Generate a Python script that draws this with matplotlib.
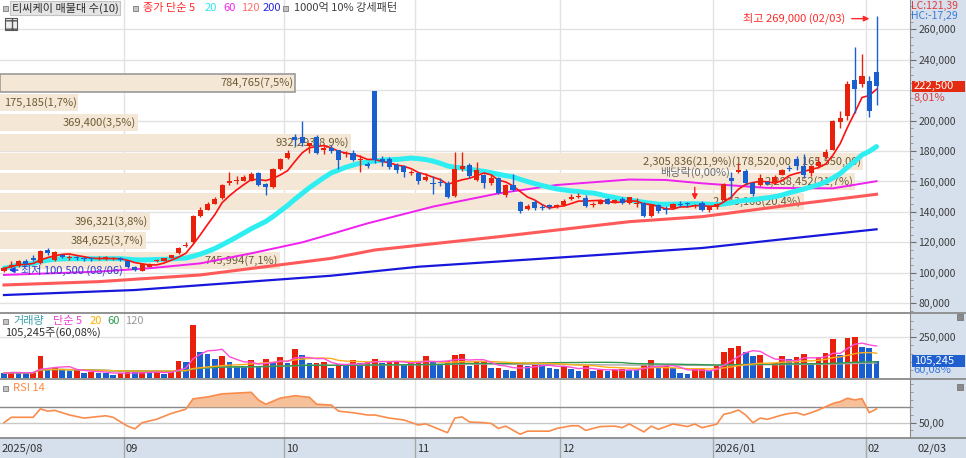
import matplotlib
matplotlib.use("Agg")
import matplotlib.pyplot as plt
import matplotlib.transforms as mtransforms
from matplotlib.patches import Rectangle
from matplotlib.ticker import FuncFormatter, MultipleLocator
import numpy as np
import pandas as pd

plt.rcParams['font.family'] = ['Noto Sans CJK KR', 'DejaVu Sans']

W, H = 966, 458

# daily candles in thousand won, 2025/08/06 .. 2026/02/03
open_k = [101.5, 103.5, 104.5, 108.0, 110.0, 106.5, 115.0, 108.5, 111.5, 109.5,
          110.0, 109.5, 109.5, 109.0, 109.5, 109.0, 109.5, 107.5, 104.0, 101.0,
          104.0, 107.5, 108.0, 110.0, 113.0, 117.5, 120.0, 137.5, 141.5, 145.5,
          149.0, 159.0, 160.0, 160.5, 160.5, 165.5, 158.5, 156.5, 168.5, 175.5,
          189.5, 189.5, 183.0, 189.5, 181.0, 182.0, 180.5, 178.0, 179.0, 174.0,
          171.5, 219.5, 175.0, 175.0, 171.0, 170.0, 165.5, 165.5, 161.0, 159.0,
          159.5, 159.0, 150.5, 168.5, 171.0, 161.0, 164.5, 159.0, 162.0, 151.0,
          157.5, 146.5, 142.0, 146.5, 143.5, 144.5, 143.5, 144.5, 148.5, 150.0,
          149.0, 144.5, 145.5, 148.5, 146.5, 148.5, 146.0, 145.5, 146.0, 137.5,
          144.5, 142.0, 142.5, 145.5, 145.5, 144.0, 146.0, 141.5, 143.0, 148.0,
          162.0, 166.5, 167.0, 159.0, 157.5, 159.5, 159.5, 164.5, 169.0, 175.0,
          170.5, 165.5, 170.0, 176.0, 181.0, 199.0, 203.0, 227.0, 224.0, 226.0,
          232.0]
high_k = [103.5, 107.5, 108.5, 109.0, 111.5, 115.0, 116.5, 114.5, 112.5, 111.5,
          111.0, 110.5, 110.5, 111.0, 111.0, 110.5, 110.5, 108.0, 104.5, 106.5,
          106.5, 109.0, 110.0, 112.0, 117.0, 120.0, 138.0, 143.0, 146.5, 150.0,
          158.5, 166.0, 163.5, 164.0, 166.5, 166.0, 159.0, 169.0, 175.5, 181.0,
          191.0, 199.5, 185.5, 190.5, 183.0, 184.0, 181.0, 180.0, 180.5, 177.5,
          172.5, 219.5, 177.0, 176.0, 172.0, 171.0, 167.5, 166.0, 165.5, 163.5,
          162.0, 160.0, 179.5, 179.5, 172.0, 172.5, 165.0, 164.0, 163.0, 158.5,
          165.0, 147.5, 145.0, 148.0, 145.0, 145.0, 145.5, 148.5, 152.0, 152.5,
          151.0, 146.5, 148.5, 149.0, 148.5, 149.5, 150.0, 149.0, 146.5, 145.5,
          145.0, 144.0, 146.0, 147.0, 146.5, 145.5, 147.0, 144.0, 146.0, 159.0,
          166.0, 172.0, 168.0, 159.5, 165.0, 160.5, 164.0, 168.5, 171.0, 176.5,
          178.0, 171.0, 176.0, 181.5, 200.5, 206.0, 226.0, 248.5, 244.0, 229.0,
          269.0]
low_k = [100.5, 103.0, 104.0, 105.0, 107.5, 106.0, 112.0, 108.0, 109.5, 108.5,
         108.5, 108.0, 108.0, 108.5, 108.5, 108.5, 108.0, 103.0, 101.5, 101.0,
         103.5, 107.0, 107.5, 109.5, 112.5, 117.0, 119.5, 136.5, 141.0, 145.0,
         148.5, 158.0, 158.5, 160.0, 160.0, 157.0, 151.0, 155.5, 167.5, 175.0,
         183.5, 183.0, 178.5, 178.0, 178.0, 178.5, 168.5, 176.0, 173.5, 166.5,
         169.0, 172.0, 170.0, 168.0, 165.5, 163.0, 164.0, 158.5, 160.0, 152.0,
         157.0, 149.0, 150.0, 167.0, 162.5, 160.5, 156.0, 157.5, 151.5, 150.0,
         153.5, 139.5, 141.0, 141.5, 141.5, 142.0, 142.5, 144.0, 148.0, 149.0,
         143.5, 143.5, 145.0, 145.0, 146.0, 145.5, 145.5, 143.0, 137.0, 137.0,
         139.5, 138.5, 142.0, 143.0, 143.5, 142.5, 140.5, 140.0, 142.0, 147.5,
         150.0, 165.5, 158.0, 150.5, 157.0, 157.5, 158.5, 164.0, 167.0, 167.5,
         162.5, 163.5, 169.0, 175.0, 180.5, 195.0, 200.5, 205.0, 222.0, 202.5,
         210.0]
close_k = [103.0, 105.0, 108.0, 106.0, 108.5, 114.5, 113.0, 114.0, 110.5, 110.0,
           109.5, 109.0, 109.0, 109.5, 110.0, 109.5, 108.5, 103.5, 102.0, 106.0,
           106.0, 108.5, 109.5, 111.5, 116.0, 118.5, 137.5, 141.5, 145.5, 148.5,
           157.5, 160.0, 161.0, 163.0, 165.0, 157.5, 156.5, 168.0, 174.5, 179.0,
           187.5, 185.0, 185.0, 178.5, 182.0, 180.0, 174.0, 179.0, 174.0, 175.0,
           170.5, 174.0, 172.5, 169.5, 167.5, 166.5, 166.0, 160.0, 163.0, 158.5,
           159.0, 150.0, 168.0, 170.0, 163.5, 167.5, 159.0, 162.0, 152.5, 157.5,
           154.5, 140.5, 144.0, 142.5, 142.5, 143.5, 144.5, 147.0, 150.0, 150.5,
           144.0, 145.5, 148.0, 145.5, 148.0, 146.0, 149.5, 146.0, 137.5, 145.0,
           140.5, 141.0, 145.5, 144.5, 145.0, 144.5, 141.5, 143.0, 145.5, 158.5,
           160.0, 167.5, 159.0, 151.5, 162.5, 158.5, 163.0, 167.5, 168.0, 170.0,
           164.0, 170.5, 173.0, 179.5, 199.5, 202.0, 224.0, 221.0, 229.5, 206.0,
           222.5]
# volume in thousand shares
volume_k = [29, 37, 33, 30, 35, 135, 60, 62, 47, 45,
            50, 30, 38, 33, 32, 20, 29, 38, 35, 38,
            32, 38, 25, 38, 104, 100, 323, 162, 146, 117,
            135, 96, 75, 74, 110, 70, 117, 100, 127, 94,
            176, 141, 90, 92, 100, 59, 84, 80, 110, 90,
            100, 117, 90, 100, 104, 80, 90, 104, 135, 96,
            84, 104, 141, 147, 76, 96, 100, 60, 62, 51,
            45, 88, 72, 88, 84, 60, 57, 72, 55, 45,
            76, 41, 47, 41, 51, 55, 51, 50, 82, 108,
            60, 72, 60, 31, 27, 60, 61, 41, 72, 162,
            186, 198, 158, 135, 141, 60, 90, 135, 117, 129,
            147, 94, 127, 155, 237, 141, 248, 254, 192, 182,
            105.245]

krx_holidays = ['2025-08-15', '2025-10-03', '2025-10-06', '2025-10-07', '2025-10-08',
                '2025-10-09', '2025-12-25', '2025-12-31', '2026-01-01']

# longer moving averages (day index, thousand won)
ma60_idx = [0, 13, 20, 27, 34, 41, 45, 50, 59, 68, 76, 86, 91, 96, 105, 114, 120]
ma60_val = [98.6, 100.8, 103.0, 106.2, 112.8, 120.0, 125.5, 132.5, 143.5, 152.2,
            157.7, 161.3, 161.0, 158.8, 155.8, 155.5, 160.2]
ma120_idx = [0, 13, 27, 45, 51, 68, 86, 96, 110, 120]
ma120_val = [92.0, 94.2, 98.6, 109.5, 115.0, 123.7, 133.6, 136.9, 145.7, 151.6]
ma200_idx = [0, 18, 45, 57, 82, 96, 107, 120]
ma200_val = [85.4, 88.7, 98.1, 104.0, 111.8, 116.3, 122.0, 128.6]

# RSI 14
rsi_idx = [0, 1, 4, 5, 6, 7, 9, 11, 14, 15, 17, 18, 19, 21, 23, 25, 26, 28, 30, 31,
           34, 35, 36, 38, 40, 42, 43, 45, 46, 48, 50, 51, 53, 55, 57, 58, 61, 62, 63, 64,
           66, 67, 68, 69, 71, 72, 75, 76, 78, 79, 80, 82, 84, 85, 86, 88, 89, 90, 92, 94,
           95, 96, 98, 99, 100, 101, 102, 103, 104, 105, 107, 108, 109, 110, 111, 112, 114, 115, 116, 117,
           118, 119, 120]
rsi_val = [50, 57, 57, 68, 65, 66, 60, 56, 59, 57, 45.5, 42, 50, 54.5, 62, 67.5, 81, 83.5, 87.5, 88,
           89.5, 79.5, 74, 82, 85, 83, 74, 73, 65, 63, 60, 60, 56, 53.5, 47, 48.5, 37, 56, 57.5, 51,
           50, 49, 42.5, 45.5, 35, 39, 39, 42.5, 46, 46, 40, 45, 45.5, 43.5, 48.3, 38, 45.5, 41.4, 48.3, 45,
           48.3, 43.5, 48, 61, 63, 66.5, 60, 50, 56, 54.4, 60, 62, 63, 60, 63, 66.5, 75, 77.4, 81.8, 79.6,
           81.3, 63, 68]

# volume profile (매물대): 10 bands
profile_low = 100700
profile_step = 12970
profile_vol = [745994, 384625, 396321, 2043108, 2288452, 2305836, 932293, 369400, 175185, 784765]
profile_pct = [7.1, 3.7, 3.8, 20.4, 21.7, 21.9, 8.9, 3.5, 1.7, 7.5]

o = np.array(open_k) * 1000
h = np.array(high_k) * 1000
l = np.array(low_k) * 1000
c = np.array(close_k) * 1000
vol = np.array(volume_k) * 1000
n = len(c)
x = np.arange(n)
dates = pd.bdate_range('2025-08-06', '2026-02-03', freq='C', holidays=krx_holidays)[:n]

RED, BLUE = '#e8200c', '#1a5fd0'
GRID = '#e2e2e2'
STRIP = '#d6e0ec'
SEP = '#8a8a8a'

fig = plt.figure(figsize=(W / 100, H / 100), dpi=100)


def axes_px(x0, y0, x1, y1):
    return fig.add_axes([x0 / W, 1 - y1 / H, (x1 - x0) / W, (y1 - y0) / H])


def ftext(px, py, s, **kw):
    kw.setdefault('fontsize', 8)
    kw.setdefault('va', 'center')
    return fig.text(px / W, 1 - py / H, s, **kw)


def fsquare(px, py, size=5):
    fig.patches.append(Rectangle((px / W, 1 - (py + size / 2) / H), size / W, size / H,
                                 transform=fig.transFigure, facecolor='#c4c4c4',
                                 edgecolor='#7c7c7c', lw=0.6, zorder=5))


# backgrounds: right value strip and bottom date strip
fig.patches.append(Rectangle((910 / W, 0), (W - 910) / W, 1, transform=fig.transFigure,
                             facecolor=STRIP, edgecolor='none', zorder=-2))
fig.patches.append(Rectangle((0, 0), 1, (H - 438) / H, transform=fig.transFigure,
                             facecolor=STRIP, edgecolor='none', zorder=-2))

ax = axes_px(0, 0, 910, 313)
axv = axes_px(0, 313, 910, 379)
axr = axes_px(0, 379, 910, 438)

xlim = (-0.55, 124.6)
month_start = [i for i in range(1, n) if dates[i].month != dates[i - 1].month]
month_lines = [i - 0.5 for i in month_start]

for a in (ax, axv, axr):
    a.set_xlim(*xlim)
    a.set_xticks([])
    a.set_facecolor('white')
    for side in ('top', 'left', 'bottom'):
        a.spines[side].set_visible(False)
    a.spines['right'].set_color(SEP)
    a.yaxis.tick_right()
    a.tick_params(axis='y', which='major', direction='out', length=4, width=0.8,
                  color='#6c6c6c', labelsize=7.5, labelcolor='#3c3c3c', pad=2)
    a.tick_params(axis='y', which='minor', direction='out', length=2, width=0.6, color='#8c8c8c')
    for m in month_lines:
        a.axvline(m, color=GRID, lw=1, zorder=0.5)

# ---------------- price panel ----------------
ax.set_ylim(73600, 279250)
ax.set_yticks(np.arange(80000, 260001, 20000))
ax.yaxis.set_minor_locator(MultipleLocator(5000))
# the tick label under the current-price box is hidden, as on the chart
ax.yaxis.set_major_formatter(FuncFormatter(
    lambda v, p: '' if abs(v - c[-1]) < 9000 else f'{v:,.0f}'))
for yv in np.arange(80000, 260001, 20000):
    ax.axhline(yv, color=GRID, lw=1, zorder=0.5)

blend = mtransforms.blended_transform_factory(ax.transAxes, ax.transData)
pct_max = max(profile_pct)
gap = 1700
fig.canvas.draw()
renderer = fig.canvas.get_renderer()
ax_w = ax.get_window_extent().width
for k, (pv, pp) in enumerate(zip(profile_vol, profile_pct)):
    lo = profile_low + k * profile_step
    hi = lo + profile_step
    frac = pp / pct_max * 0.948
    holds_last = lo <= c[-1] < hi
    label = f"{pv:,}({pp:.1f}%)".replace('.', ',')
    if pp == pct_max:
        label += f"({hi:,.0f},00 ~ {lo:,.0f},00)"
    t = ax.text(frac - 0.002, lo + gap + (profile_step - gap) / 2, label, transform=blend,
                ha='right', va='center', fontsize=8, color='#6d5a32', zorder=2)
    tw = t.get_window_extent(renderer).width / ax_w
    if tw + 0.006 > frac:
        frac = tw + 0.006
        t.set_x(frac - 0.002)
    ax.add_patch(Rectangle((0, lo + gap), frac, profile_step - gap, transform=blend,
                           facecolor='#f4e7d6', edgecolor='#9a9a9a' if holds_last else 'none',
                           lw=1.2, zorder=1))

ma5 = pd.Series(c).rolling(5, min_periods=1).mean()
ma20 = pd.Series(c).rolling(20, min_periods=1).mean()
ax.plot(ma200_idx, np.array(ma200_val) * 1000, color='#1818dc', lw=1.6, zorder=3)
ax.plot(ma120_idx, np.array(ma120_val) * 1000, color='#ff5a5a', lw=2.2, zorder=3)
ax.plot(ma60_idx, np.array(ma60_val) * 1000, color='#f020f0', lw=1.4, zorder=3)
ax.plot(x, ma20, color='#2eeef2', lw=3.6, zorder=3, solid_capstyle='round')
ax.plot(x, ma5, color='#ff1010', lw=1.2, zorder=3.5)

up = c >= o
ccol = np.where(up, RED, BLUE)
ax.vlines(x, l, h, colors=ccol, lw=1, zorder=4)
ax.bar(x, np.maximum(np.abs(c - o), 700), bottom=np.minimum(o, c), width=0.7,
       color=ccol, linewidth=0, zorder=4)

# high / low / ex-dividend marks
i_hi = int(np.argmax(h))
i_lo = int(np.argmin(l))
ax.annotate('', xy=(i_hi - 0.6, 267000), xytext=(i_hi - 3.8, 267000),
            arrowprops=dict(arrowstyle='-|>', color='#ff2a2a', lw=1, mutation_scale=8), zorder=6)
ax.text(i_hi - 4.3, 267000, f'최고 {h[i_hi]:,.0f} ({dates[i_hi]:%m/%d})', ha='right', va='center',
        fontsize=8, color='#ff2a2a', zorder=6)
ax.annotate('', xy=(i_lo + 0.3, 101800), xytext=(i_lo + 2.3, 101800),
            arrowprops=dict(arrowstyle='-|>', color='#1e3ce0', lw=1, mutation_scale=8), zorder=6)
ax.text(i_lo + 2.4, 101800, f'최저 {l[i_lo]:,.0f} ({dates[i_lo]:%m/%d})', ha='left', va='center',
        fontsize=8, color='#2a3cd0', zorder=6)
i_div = int(np.where(dates == pd.Timestamp('2025-12-26'))[0][0])
ax.annotate('', xy=(i_div, h[i_div] + 600), xytext=(i_div, 158000),
            arrowprops=dict(arrowstyle='-|>', color='#ff2020', lw=1, mutation_scale=8), zorder=6)
ax.text(i_div, 166000, '배당락(0,00%)', ha='center', va='center', fontsize=8,
        color='#6c6c6c', zorder=6)

# ---------------- volume panel ----------------
axv.set_ylim(-6142, 399230)
axv.set_yticks([250000])
axv.yaxis.set_minor_locator(MultipleLocator(50000))
axv.yaxis.set_major_formatter(FuncFormatter(lambda v, p: f'{v:,.0f}'))
axv.axhline(250000, color=GRID, lw=1, zorder=0.5)
vol_up = np.r_[False, np.diff(vol) >= 0]
axv.bar(x, vol, width=0.78, color=np.where(vol_up, RED, BLUE), linewidth=0, zorder=2)
vs = pd.Series(vol)
axv.plot(x, vs.rolling(120, min_periods=1).mean(), color='#a8a8a8', lw=1.0, zorder=3)
axv.plot(x, vs.rolling(60, min_periods=1).mean(), color='#2e9a4e', lw=1.0, zorder=3)
axv.plot(x, vs.rolling(20, min_periods=1).mean(), color='#ffae1a', lw=1.0, zorder=3)
axv.plot(x, vs.rolling(5, min_periods=1).mean(), color='#ff4ed8', lw=1.0, zorder=3)

# ---------------- RSI panel ----------------
axr.set_ylim(30.1, 106.8)
axr.set_yticks([50])
axr.yaxis.set_minor_locator(MultipleLocator(10))
axr.yaxis.set_major_formatter(FuncFormatter(lambda v, p: f'{v:.2f}'.replace('.', ',')))
axr.axhline(70, color='#8a8a8a', lw=1, zorder=1)
axr.axhline(50, color='#c8c8c8', lw=1, zorder=1)
rv = np.array(rsi_val)
axr.fill_between(rsi_idx, rv, 70, where=rv > 70, interpolate=True, color='#f6c09a',
                 lw=0, zorder=2)
axr.plot(rsi_idx, rv, color='#f98c4c', lw=1.2, zorder=3)

# panel separators
for py in (313, 379, 438):
    fig.add_artist(plt.Line2D([0, 1], [1 - py / H] * 2, color=SEP, lw=1.3,
                              transform=fig.transFigure))

# ---------------- date strip ----------------
dblend = mtransforms.blended_transform_factory(axr.transData, fig.transFigure)
axr.text(-0.35, 1 - 449 / H, f'{dates[0]:%Y/%m}', transform=dblend, fontsize=8,
         color='#303030', va='center', ha='left', clip_on=False)
for i, m in zip(month_start, month_lines):
    axr.plot([m, m], [0, 1 - 438 / H], transform=dblend, color='#a8a8a8', lw=1, clip_on=False)
    lab = f'{dates[i]:%Y/%m}' if dates[i].month == 1 else f'{dates[i]:%m}'
    axr.text(m + 0.25, 1 - 449 / H, lab, transform=dblend, fontsize=8, color='#303030',
             va='center', ha='left', clip_on=False)
ftext(918, 449, f'{dates[-1]:%m/%d}', color='#303030')

# ---------------- right strip labels ----------------
ftext(911, 6, 'LC:121,39', color='#e03a3a', fontsize=7.5)
ftext(911, 16, 'HC:-17,29', color='#3a78d8', fontsize=7.5)

pblend = mtransforms.blended_transform_factory(fig.transFigure, ax.transData)
box_h = 11 / 1.522 * 1000
fig.add_artist(Rectangle((912 / W, c[-1] - box_h / 2), 53 / W, box_h, transform=pblend,
                         facecolor='#e52a12', edgecolor='none', zorder=6))
fig.text(914 / W, c[-1], f'{c[-1]:,.0f}', transform=pblend, ha='left', va='center',
         fontsize=8, color='white', zorder=7)
last_pct = (c[-1] / c[-2] - 1) * 100
ftext(913, 98, f'{last_pct:.2f}%'.replace('.', ','), color='#e03a3a')

vblend = mtransforms.blended_transform_factory(fig.transFigure, axv.transData)
vbox_h = 12 * 6142
fig.add_artist(Rectangle((912 / W, vol[-1] - vbox_h / 2), 53 / W, vbox_h, transform=vblend,
                         facecolor='#1f5fd0', edgecolor='none', zorder=6))
fig.text(914 / W, vol[-1], f'{vol[-1]:,.0f}', transform=vblend, ha='left', va='center',
         fontsize=8, color='white', zorder=7)
ftext(913, 370, '60,08%', color='#3a78d8')
for py in (317, 387):
    fig.patches.append(Rectangle((957 / W, 1 - (py + 3) / H), 6 / W, 6 / H,
                                 transform=fig.transFigure, facecolor='#8a8a8a',
                                 edgecolor='#6a6a6a', lw=0.5, zorder=5))

# ---------------- legends ----------------
fsquare(3, 8)
ftext(12, 8, '티씨케이 매물대 수(10)', color='#2c2c2c',
      bbox=dict(boxstyle='square,pad=0.15', facecolor='#e4e4e4', edgecolor='#c4c4c4', lw=0.8))
fsquare(133, 8)
ftext(143, 8, '종가 단순 5', color='#ff2a2a')
ftext(205, 8, '20', color='#2ee6f0')
ftext(223, 8, '60', color='#f028f0')
ftext(241, 8, '120', color='#ff7070')
ftext(263, 8, '200', color='#2828e0')
fsquare(283, 8)
ftext(294, 8, '1000억 10% 강세패턴', color='#404040')
fig.patches.append(Rectangle((5 / W, 1 - 30 / H), 12 / W, 12 / H, transform=fig.transFigure,
                             facecolor='#eeeeee', edgecolor='#555555', lw=0.8, hatch='++',
                             zorder=5))

fsquare(3, 321)
ftext(13, 321, '거래량', color='#3aa0a8')
ftext(53, 321, '단순 5', color='#f040d0')
ftext(90, 321, '20', color='#ffb000')
ftext(107, 321, '60', color='#2e9a4e')
ftext(125, 321, '120', color='#9a9a9a')
ftext(5, 333, f'{vol[-1]:,.0f}주(60,08%)', color='#303030')

fsquare(3, 388)
ftext(13, 388, 'RSI 14', color='#ff8a40')

fig.savefig('out.png', dpi=100)
